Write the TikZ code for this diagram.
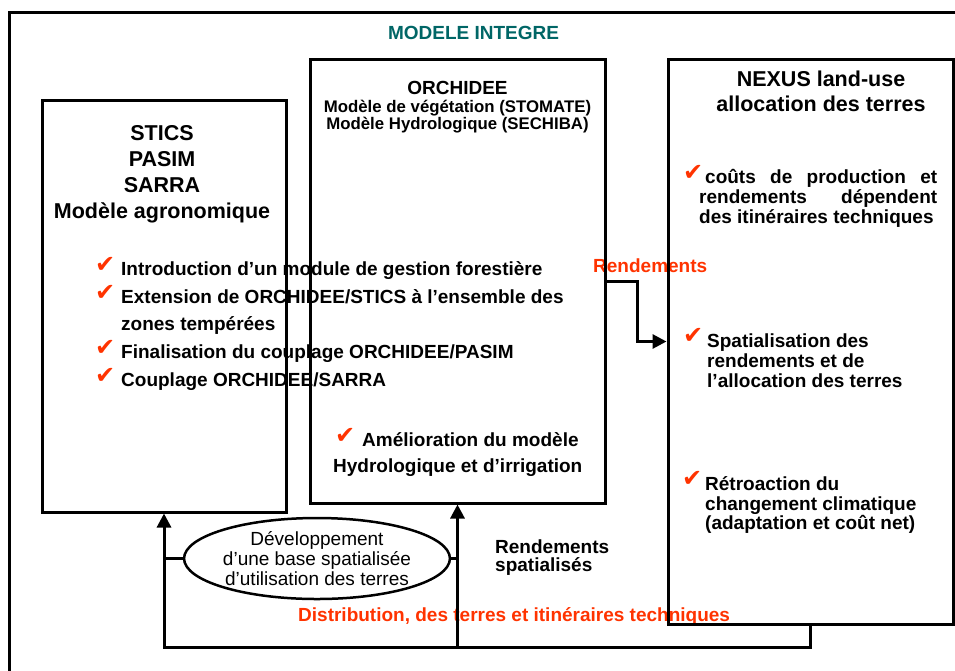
\documentclass[tikz,border=0pt]{standalone}
\usepackage{fontspec}
\setmainfont{Liberation Sans}
\newfontfamily\symfont{DejaVu Sans}
\usetikzlibrary{arrows.meta,shapes.geometric}
\definecolor{titleteal}{RGB}{0,102,102}
\definecolor{redor}{RGB}{255,51,0}
\begin{document}
\begin{tikzpicture}[x=1pt,y=-1pt,
  box/.style={draw,line width=3pt,rectangle,inner sep=0},
  conn/.style={line width=3pt},
  arr/.style={-{Triangle[length=14pt 0 0,width=14pt 0 0]}},
  bt/.style={inner sep=0,anchor=base west,font=\bfseries\fontsize{19}{20}\selectfont},
  bc/.style={inner sep=0,anchor=base,font=\bfseries\fontsize{21.5}{26}\selectfont},
  sc/.style={inner sep=0,anchor=base,font=\bfseries\fontsize{16.8}{17}\selectfont},
  ck/.style={inner sep=0,anchor=base west,text=redor,font=\symfont\fontsize{24}{24}\selectfont},
  redt/.style={bt,text=redor},
]
\useasboundingbox (0,0) rectangle (955,670);
\clip (0,0) rectangle (955,670);
% outer frame
\draw[line width=3pt] (965,12) -- (9,12) -- (9,680);
\node[bt,anchor=base,text=titleteal] (title) at (473.5,39) {MODELE INTEGRE};

% STICS texts
\node[bc] (st1) at (162,140) {STICS};
\node[bc] (st2) at (162,166) {PASIM};
\node[bc] (st3) at (162,192) {SARRA};
\node[bc] (st4) at (162,218) {Modèle agronomique};

% ORCHIDEE texts
\node[bc,font=\bfseries\fontsize{19}{20}\selectfont] (or1) at (457.5,94) {ORCHIDEE};
\node[sc] (or2) at (457.5,112) {Modèle de végétation (STOMATE)};
\node[sc] (or3) at (457.5,129) {Modèle Hydrologique (SECHIBA)};

% NEXUS texts
\node[bc] (nx1) at (821,86) {NEXUS land-use};
\node[bc] (nx2) at (821,111) {allocation des terres};

\node[ck] (ckn1) at (683,180) {✔};
\node[bt] (na1) at (705,183) {\makebox[232pt][s]{coûts de production et}};
\node[bt] (na2) at (699,203) {\makebox[238pt][s]{rendements dépendent}};
\node[bt] (na3) at (699,223) {des itinéraires techniques};

\node[ck] (ckn2) at (683,343) {✔};
\node[bt] (nb1) at (707,347) {Spatialisation des};
\node[bt] (nb2) at (707,367) {rendements et de};
\node[bt] (nb3) at (707,387) {l’allocation des terres};

\node[ck] (ckn3) at (682,486) {✔};
\node[bt] (nc1) at (705,490) {Rétroaction du};
\node[bt] (nc2) at (705,510) {changement climatique};
\node[bt] (nc3) at (705,529) {(adaptation et coût net)};

% left items
\node[ck] (ckl1) at (95,272) {✔};
\node[bt] (la1) at (121,275) {Introduction d’un module de gestion forestière};
\node[ck] (ckl2) at (95,300) {✔};
\node[bt] (la2) at (121,303) {Extension de ORCHIDEE/STICS à l’ensemble des};
\node[bt] (la3) at (121,330) {zones tempérées};
\node[ck] (ckl3) at (95,355) {✔};
\node[bt] (la4) at (121,358) {Finalisation du couplage ORCHIDEE/PASIM};
\node[ck] (ckl4) at (95,383) {✔};
\node[bt] (la5) at (121,386) {Couplage ORCHIDEE/SARRA};

% middle items
\node[ck] (ckm) at (335,443) {✔};
\node[bt] (ma1) at (362,446) {Amélioration du modèle};
\node[bt] (ma2) at (333,472) {Hydrologique et d’irrigation};

% labels
\node[redt] (lrend) at (593,272) {Rendements};
\node[bt] (lsp1) at (495,553) {Rendements};
\node[bt] (lsp2) at (495,571) {spatialisés};
\node[redt] (ldist) at (298,621) {Distribution, des terres et itinéraires techniques};

% boxes
\node[box,minimum width=244pt,minimum height=412pt] (stics) at (164,306) {};
\node[box,minimum width=295pt,minimum height=444pt] (orch) at (457.5,281) {};
\node[box,minimum width=285pt,minimum height=565pt] (nexus) at (810.5,341.5) {};

\node[draw,ellipse,line width=2.5pt,inner sep=0,minimum width=262pt,minimum height=81pt,
      align=center,font=\fontsize{19}{20}\selectfont] (base) at (317,558.5)
      {Développement\\d’une base spatialisée\\d’utilisation des terres};

% connectors
\coordinate (loopR) at (nexus.south |- 0,647);
\coordinate (loopL) at (stics.south |- 0,647);
\coordinate (loopM) at (orch.south |- 0,647);
\draw[conn,arr] (nexus.south) -- (loopR) -- (loopL) -- (stics.south);
\draw[conn,arr] (loopM) -- (orch.south);
\draw[conn] (base.west) -- (base.west -| loopL);
\draw[conn] (base.east) -- (base.east -| loopM);
\draw[conn,arr] (orch.east) -- ++(31,0) |- (nexus.west);
\end{tikzpicture}
\end{document}
